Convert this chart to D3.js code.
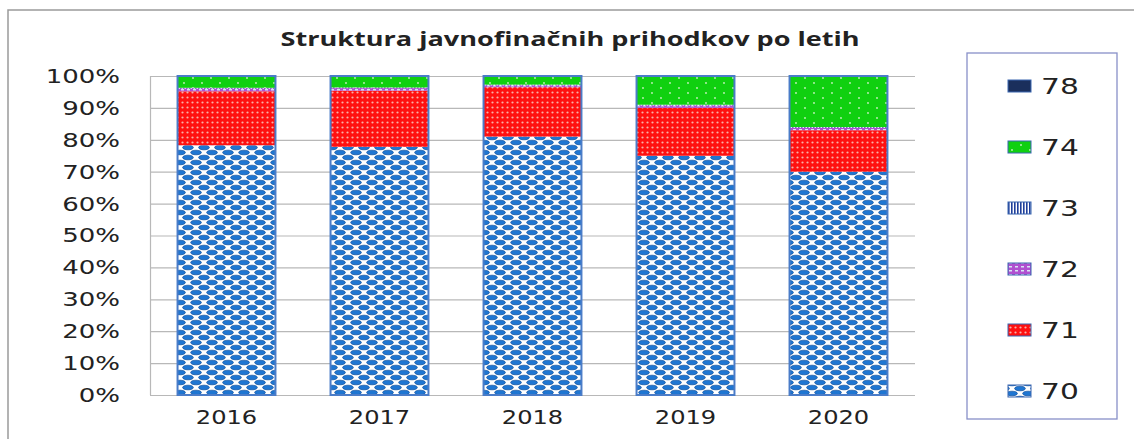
<!DOCTYPE html>
<html>
<head>
<meta charset="utf-8">
<script src="https://cdn.jsdelivr.net/npm/d3@7"></script>
<style>
  body { margin: 0; background: #fff; }
  text { font-family: "DejaVu Sans", Verdana, sans-serif; fill: #222; }
</style>
</head>
<body>
<script>
const years = ["2016", "2017", "2018", "2019", "2020"]; // categories
const keys = ["70", "71", "72", "73", "74", "78"]; // stack order, bottom to top
const s70 = [78.3, 77.8, 81.0, 75.0, 70.0];
const s71 = [16.9, 17.6, 15.5, 15.0, 13.0];
const s72 = [0.9, 0.8, 0.6, 0.8, 0.8];
const s73 = [0.2, 0.2, 0.2, 0.2, 0.2];
const s74 = [3.7, 3.6, 2.7, 9.0, 16.0];
const s78 = [0, 0, 0, 0, 0];
const yTicks = [0, 10, 20, 30, 40, 50, 60, 70, 80, 90, 100];

const width = 1134, height = 439;
const plot = {left: 150, right: 915, top: 76, bottom: 395};

const rows = years.map((y, i) => ({year: y, "70": s70[i], "71": s71[i], "72": s72[i], "73": s73[i], "74": s74[i], "78": s78[i]}));

// widen text like the stretched original
const stretch = (sel, k) => sel.each(function() {
  let len = this.getComputedTextLength();
  d3.select(this).attr("textLength", len * k).attr("lengthAdjust", "spacingAndGlyphs");
});

const svg = d3.select("body").append("svg")
  .attr("width", width)
  .attr("height", height);

// patterns for the fills
const defs = svg.append("defs");

let p70 = defs.append("pattern").attr("id", "p70").attr("patternUnits", "userSpaceOnUse")
  .attr("width", 16).attr("height", 10);
p70.append("rect").attr("width", 16).attr("height", 10).attr("fill", "#ffffff");
[[4, 2.5], [12, 7.5], [-4, 7.5], [20, 2.5], [4, 12.5], [12, -2.5]].forEach(c => {
  p70.append("ellipse").attr("cx", c[0]).attr("cy", c[1]).attr("rx", 5.4).attr("ry", 2.3)
    .attr("fill", "#1f76d2").attr("stroke", "#0d4f9c").attr("stroke-width", 0.7);
});

let p71 = defs.append("pattern").attr("id", "p71").attr("patternUnits", "userSpaceOnUse")
  .attr("width", 5).attr("height", 5);
p71.append("rect").attr("width", 5).attr("height", 5).attr("fill", "#ff1010");
p71.append("circle").attr("cx", 2.5).attr("cy", 2.5).attr("r", 1.1).attr("fill", "#f6b0a8");

let p72 = defs.append("pattern").attr("id", "p72").attr("patternUnits", "userSpaceOnUse")
  .attr("width", 6).attr("height", 4);
p72.append("rect").attr("width", 6).attr("height", 4).attr("fill", "#b050d0");
p72.append("rect").attr("x", 1).attr("y", 1).attr("width", 3).attr("height", 1.5).attr("fill", "#d8e4f4");

let p73 = defs.append("pattern").attr("id", "p73").attr("patternUnits", "userSpaceOnUse")
  .attr("width", 3).attr("height", 3);
p73.append("rect").attr("width", 3).attr("height", 3).attr("fill", "#ffffff");
p73.append("rect").attr("width", 1.6).attr("height", 3).attr("fill", "#1f3f9a");

let p74 = defs.append("pattern").attr("id", "p74").attr("patternUnits", "userSpaceOnUse")
  .attr("width", 18).attr("height", 10);
p74.append("rect").attr("width", 18).attr("height", 10).attr("fill", "#10d010");
p74.append("circle").attr("cx", 4).attr("cy", 3).attr("r", 0.9).attr("fill", "#c8f0c0");
p74.append("circle").attr("cx", 13).attr("cy", 8).attr("r", 0.9).attr("fill", "#c8f0c0");

const fills = {"70": "url(#p70)", "71": "url(#p71)", "72": "url(#p72)", "73": "url(#p73)", "74": "url(#p74)", "78": "#1a2f5c"};

// outer frame
svg.append("rect")
  .attr("x", 8).attr("y", 10)
  .attr("width", width + 20).attr("height", height + 20)
  .attr("fill", "none").attr("stroke", "#9a9a9a").attr("stroke-width", 1.5);

svg.append("text")
  .attr("x", 570).attr("y", 46)
  .attr("text-anchor", "middle")
  .attr("textLength", 579).attr("lengthAdjust", "spacingAndGlyphs")
  .style("font-family", "'Open Sans', sans-serif")
  .style("font-weight", "bold")
  .style("font-size", "19px")
  .text("Struktura javnofinačnih prihodkov po letih");

const xScale = d3.scaleBand().domain(years).range([plot.left, plot.right]).paddingInner(0.36).paddingOuter(0.18);
const yScale = d3.scaleLinear().domain([0, 100]).range([plot.bottom, plot.top]);

// gridlines
svg.append("g").selectAll("line").data(yTicks).enter().append("line")
  .attr("x1", plot.left).attr("x2", plot.right)
  .attr("y1", d => yScale(d) + 0.5).attr("y2", d => yScale(d) + 0.5)
  .attr("stroke", "#b8b8b8").attr("stroke-width", 1.2);
svg.append("line")
  .attr("x1", plot.left + 0.5).attr("x2", plot.left + 0.5)
  .attr("y1", plot.top).attr("y2", plot.bottom)
  .attr("stroke", "#b8b8b8").attr("stroke-width", 1.2);

// y axis labels
const yAxis = d3.axisLeft(yScale).tickValues(yTicks).tickFormat(d => d + "%").tickSize(0).tickPadding(30);
const yg = svg.append("g").attr("transform", "translate(" + plot.left + ",0)").call(yAxis);
yg.select(".domain").remove();
yg.selectAll("text").style("font-size", "20px").style("font-family", "'DejaVu Sans', sans-serif").attr("fill", "#222");
stretch(yg.selectAll("text"), 1.3);

// x axis labels
const xAxis = d3.axisBottom(xScale).tickSize(0).tickPadding(16);
const xg = svg.append("g").attr("transform", "translate(0," + plot.bottom + ")").call(xAxis);
xg.select(".domain").remove();
xg.selectAll("text").style("font-size", "19px").style("font-family", "'DejaVu Sans', sans-serif").attr("fill", "#222");
stretch(xg.selectAll("text"), 1.27);

// stacked bars
const stacked = d3.stack().keys(keys)(rows);
svg.append("g").selectAll("g").data(stacked).enter().append("g")
  .attr("fill", d => fills[d.key])
  .selectAll("rect").data(d => d).enter().append("rect")
  .attr("x", d => xScale(d.data.year))
  .attr("width", xScale.bandwidth())
  .attr("y", d => yScale(d[1]))
  .attr("height", d => yScale(d[0]) - yScale(d[1]));

// bar outline
svg.append("g").selectAll("rect").data(rows).enter().append("rect")
  .attr("x", d => xScale(d.year))
  .attr("y", yScale(100))
  .attr("width", xScale.bandwidth())
  .attr("height", yScale(0) - yScale(100))
  .attr("fill", "none").attr("stroke", "#4a7cc8").attr("stroke-width", 2);

// legend
svg.append("rect")
  .attr("x", 967).attr("y", 53).attr("width", 150).attr("height", 366)
  .attr("fill", "#fff").attr("stroke", "#8890c8").attr("stroke-width", 1.3);

const legendKeys = keys.slice().reverse();
const legend = svg.selectAll(".legend").data(legendKeys).enter().append("g")
  .attr("class", "legend")
  .attr("transform", (d, i) => "translate(1008," + (86 + i * 61) + ")");
legend.append("rect")
  .attr("x", 0).attr("y", -6).attr("width", 23).attr("height", 12)
  .attr("fill", d => fills[d]).attr("stroke", "#3a66b0").attr("stroke-width", 1);
legend.append("text")
  .attr("x", 33).attr("y", 0).attr("dy", "0.36em")
  .style("font-size", "22px")
  .text(d => d);
stretch(legend.selectAll("text"), 1.35);
</script>
</body>
</html>
